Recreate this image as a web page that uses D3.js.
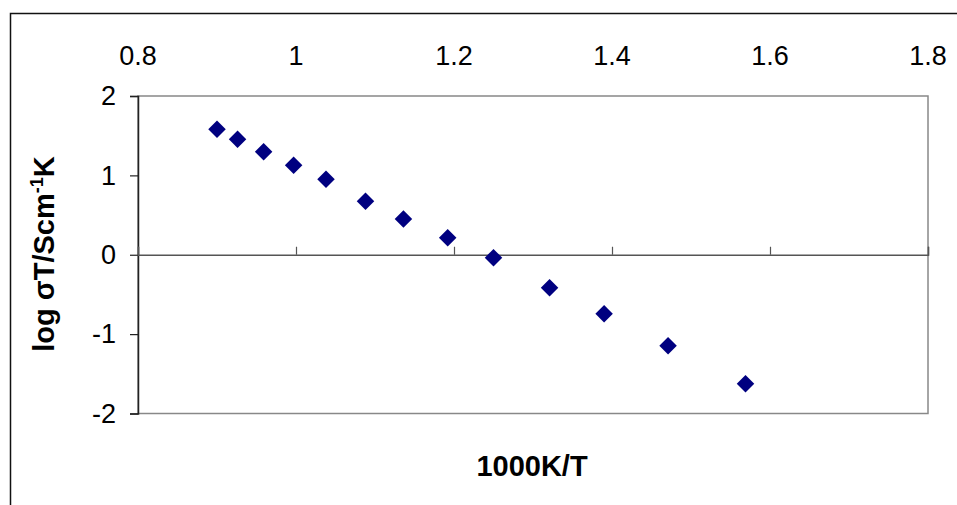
<!DOCTYPE html>
<html>
<head>
<meta charset="utf-8">
<script src="https://cdn.jsdelivr.net/npm/d3@7"></script>
<style>
  body { margin: 0; background: #fff; }
  svg { display: block; font-family: "Liberation Sans", Arial, sans-serif; }
</style>
</head>
<body>
<script>
// 1000K/T vs log sigma T
const xValues = [0.900, 0.926, 0.959, 0.997, 1.038, 1.088, 1.136, 1.192, 1.250, 1.321, 1.390, 1.471, 1.569];
const yValues = [1.58, 1.455, 1.298, 1.127, 0.951, 0.673, 0.45, 0.215, -0.037, -0.415, -0.743, -1.146, -1.625];
const xTicks = [0.8, 1, 1.2, 1.4, 1.6, 1.8];
const yTicks = [2, 1, 0, -1, -2];

const W = 957, H = 505;
const plotL = 138, plotR = 928, plotT = 96, plotB = 413.5;

const svg = d3.select('body').append('svg')
    .attr('width', W)
    .attr('height', H);

// outer chart border (runs off the page on the right and bottom)
svg.append('rect')
    .attr('x', 10.5).attr('y', 13.5)
    .attr('width', 1000).attr('height', 600)
    .attr('fill', '#fff')
    .attr('stroke', '#111')
    .attr('stroke-width', 1.5);

const x = d3.scaleLinear().domain([0.8, 1.8]).range([plotL, plotR]);
const y = d3.scaleLinear().domain([-2, 2]).range([plotB, plotT]);

// plot area
svg.append('rect')
    .attr('x', plotL).attr('y', plotT)
    .attr('width', plotR - plotL).attr('height', plotB - plotT)
    .attr('fill', '#fff')
    .attr('stroke', '#888')
    .attr('stroke-width', 1.5);

// y axis on the left
const yAxis = svg.append('g')
    .attr('transform', `translate(${plotL},0)`)
    .call(d3.axisLeft(y).tickValues(yTicks).tickSize(8).tickPadding(14).tickFormat(d => String(d)));
yAxis.select('.domain').attr('stroke', '#222').attr('stroke-width', 1.5);
yAxis.selectAll('.tick line').attr('stroke', '#222').attr('stroke-width', 1.2);
yAxis.selectAll('.tick text')
    .attr('font-size', 27)
    .attr('font-family', '"Liberation Sans", Arial, sans-serif')
    .attr('fill', '#000');

// x axis crosses at y = 0, labels sit at the top
const xAxis = svg.append('g')
    .attr('transform', `translate(0,${y(0)})`)
    .call(d3.axisTop(x).tickValues(xTicks).tickSize(8).tickFormat(d => d));
xAxis.select('.domain').attr('stroke', '#555').attr('stroke-width', 1.5);
xAxis.selectAll('.tick line').attr('stroke', '#555').attr('stroke-width', 1.2);
xAxis.selectAll('.tick text').remove();

svg.append('g').selectAll('text')
    .data(xTicks)
    .join('text')
    .attr('x', d => x(d))
    .attr('y', 65)
    .attr('text-anchor', 'middle')
    .attr('font-size', 27)
    .text(d => d);

// markers
svg.append('g').selectAll('path')
    .data(xValues)
    .join('path')
    .attr('d', d3.symbol(d3.symbolDiamond2, 195))
    .attr('transform', (d, i) => `translate(${x(d)},${y(yValues[i])})`)
    .attr('fill', '#000080');

// axis titles
svg.append('text')
    .attr('x', 532)
    .attr('y', 476)
    .attr('text-anchor', 'middle')
    .attr('font-size', 29)
    .attr('font-weight', 'bold')
    .text('1000K/T');

const yt = svg.append('text')
    .attr('transform', 'translate(54,254) rotate(-90)')
    .attr('text-anchor', 'middle')
    .attr('font-size', 29)
    .attr('font-weight', 'bold');
yt.append('tspan').text('log ');
yt.append('tspan').text('σ');
yt.append('tspan').text('T/Scm');
yt.append('tspan').attr('dy', -11).attr('font-size', 18).text('-1');
yt.append('tspan').attr('dy', 11).text('K');
</script>
</body>
</html>
